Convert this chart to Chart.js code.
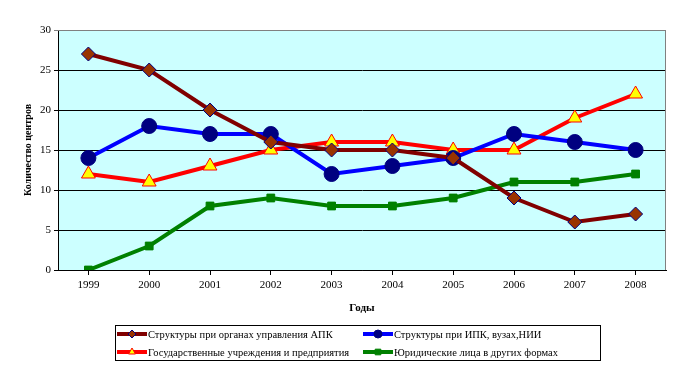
<!DOCTYPE html>
<html>
<head>
<meta charset="utf-8">
<script src="https://cdn.jsdelivr.net/npm/chart.js@4"></script>
<style>
  html, body { margin: 0; padding: 0; background: #fff; }
  #wrap { width: 698px; height: 377px; position: relative; }
</style>
</head>
<body>
<div id="wrap"><canvas id="chart_centers"></canvas></div>
<script>
var years = ['1999', '2000', '2001', '2002', '2003', '2004', '2005', '2006', '2007', '2008'];
var apkBodies = [27, 25, 20, 16, 15, 15, 14, 9, 6, 7];
var ipkUniversities = [14, 18, 17, 17, 12, 13, 14, 17, 16, 15];
var stateInstitutions = [12, 11, 13, 15, 16, 16, 15, 15, 19, 22];
var legalEntities = [0, 3, 8, 9, 8, 8, 9, 11, 11, 12];
var yTicks = [0, 5, 10, 15, 20, 25, 30];

var serif = '"Liberation Serif", "Times New Roman", serif';

var chart_centers = new Chart(document.getElementById('chart_centers'), {
    type: 'line',
    data: {
        labels: years,
        datasets: [
            {
                label: 'Структуры при органах управления АПК',
                data: apkBodies,
                borderColor: '#800000',
                backgroundColor: '#993300',
                pointBorderColor: '#000080',
                pointBorderWidth: 1,
                pointStyle: 'rectRot',
                pointRadius: 7,
                borderWidth: 4
            },
            {
                label: 'Структуры при ИПК, вузах,НИИ',
                data: ipkUniversities,
                borderColor: '#0000FF',
                backgroundColor: '#000080',
                pointBorderColor: '#000080',
                pointBorderWidth: 1,
                pointStyle: 'circle',
                pointRadius: 7.5,
                borderWidth: 4
            },
            {
                label: 'Государственные учреждения и предприятия',
                data: stateInstitutions,
                borderColor: '#FF0000',
                backgroundColor: '#FFFF00',
                pointBorderColor: '#FF0000',
                pointBorderWidth: 1,
                pointStyle: 'triangle',
                pointRadius: 8,
                borderWidth: 4
            },
            {
                label: 'Юридические лица в других формах',
                data: legalEntities,
                borderColor: '#008000',
                backgroundColor: '#008000',
                pointBorderColor: '#008000',
                pointBorderWidth: 1,
                pointStyle: 'rect',
                pointRadius: 5.5,
                borderWidth: 4
            }
        ]
    },
    options: {
        animation: false,
        responsive: true,
        maintainAspectRatio: false,
        layout: {
            padding: { top: 30, right: 32, bottom: 62, left: 22 }
        },
        plugins: {
            legend: { display: false },
            tooltip: { enabled: false }
        },
        scales: {
            x: {
                offset: true,
                title: {
                    display: true,
                    text: 'Годы',
                    font: { family: serif, size: 11, weight: 'bold' },
                    color: '#000',
                    padding: { top: 4, bottom: 0 }
                },
                ticks: {
                    font: { family: serif, size: 11 },
                    color: '#000',
                    maxRotation: 0,
                    padding: 4
                },
                grid: {
                    drawOnChartArea: false,
                    drawTicks: true,
                    tickLength: 5,
                    color: '#000'
                },
                border: { color: '#000', width: 1 },
                afterFit: function (scale) { scale.height = 45; }
            },
            y: {
                min: 0,
                max: 30,
                afterBuildTicks: function (scale) {
                    scale.ticks = yTicks.map(function (v) { return { value: v }; });
                },
                title: {
                    display: true,
                    text: 'Количество центров',
                    font: { family: serif, size: 10, weight: 'bold' },
                    color: '#000',
                    padding: { top: 0, bottom: 0 }
                },
                ticks: {
                    font: { family: serif, size: 11 },
                    color: '#000',
                    padding: 3
                },
                grid: {
                    color: function (ctx) { return ctx.tick && ctx.tick.value === 30 ? '#808080' : '#000'; },
                    tickLength: 4,
                    drawTicks: true
                },
                border: { color: '#000', width: 1 },
                afterFit: function (scale) { scale.width = 36; }
            }
        }
    },
    plugins: [{
        id: 'plotBackground',
        beforeDraw: function (chart) {
            var ctx = chart.ctx;
            var a = chart.chartArea;
            ctx.save();
            ctx.fillStyle = '#ffffff';
            ctx.fillRect(0, 0, chart.width, chart.height);
            ctx.fillStyle = '#CCFFFF';
            ctx.fillRect(a.left, a.top, a.right - a.left, a.bottom - a.top);
            ctx.restore();
        },
        beforeDatasetsDraw: function (chart) {
            var ctx = chart.ctx;
            var a = chart.chartArea;
            ctx.save();
            ctx.strokeStyle = '#808080';
            ctx.lineWidth = 1;
            ctx.beginPath();
            ctx.moveTo(a.left, a.top + 0.5);
            ctx.lineTo(a.right - 0.5, a.top + 0.5);
            ctx.lineTo(a.right - 0.5, a.bottom);
            ctx.stroke();
            ctx.restore();
        },
        afterDraw: function (chart) {
            var ctx = chart.ctx;
            ctx.save();
            // legend frame
            var bx = 115, by = 325, bw = 485, bh = 35;
            ctx.strokeStyle = '#000';
            ctx.lineWidth = 1;
            ctx.strokeRect(bx + 0.5, by + 0.5, bw, bh);
            var cols = [117, 363];
            var rows = [334, 352];
            ctx.font = '10.5px ' + serif;
            ctx.textBaseline = 'middle';
            chart.data.datasets.forEach(function (ds, i) {
                var x = cols[i % 2];
                var y = rows[Math.floor(i / 2)];
                ctx.strokeStyle = ds.borderColor;
                ctx.lineWidth = 4;
                ctx.beginPath();
                ctx.moveTo(x, y);
                ctx.lineTo(x + 30, y);
                ctx.stroke();
                ctx.fillStyle = ds.backgroundColor;
                ctx.strokeStyle = ds.pointBorderColor;
                ctx.lineWidth = 1;
                Chart.helpers.drawPoint(ctx, {
                    pointStyle: ds.pointStyle,
                    radius: 4,
                    borderWidth: 1
                }, x + 15, y);
                ctx.fillStyle = '#000';
                ctx.fillText(ds.label, x + 31, y + 1);
            });
            ctx.restore();
        }
    }]
});
</script>
</body>
</html>
